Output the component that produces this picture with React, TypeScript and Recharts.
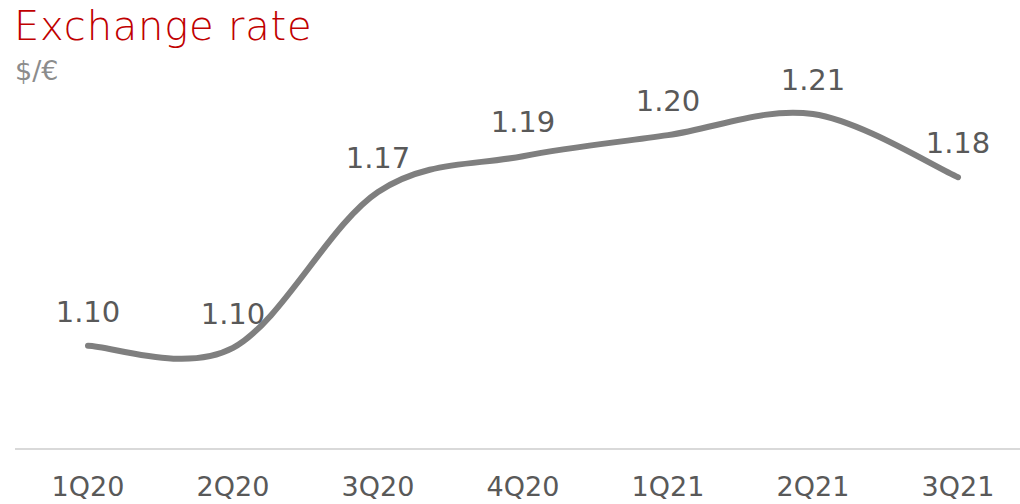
import React from 'react';
import { LineChart, Line, XAxis, YAxis, LabelList } from 'recharts';

const quarters = ['1Q20', '2Q20', '3Q20', '4Q20', '1Q21', '2Q21', '3Q21'];
const rates = [1.1, 1.099, 1.173, 1.19, 1.2, 1.21, 1.18];

const data = quarters.map((q, i) => ({ q, v: rates[i] }));

// Excel-like smooth line (uniform Catmull-Rom as cubic Beziers)
const smoothCurve = (ctx: any) => {
  let pts: [number, number][] = [];
  return {
    areaStart() {},
    areaEnd() {},
    lineStart() { pts = []; },
    point(x: number, y: number) { pts.push([+x, +y]); },
    lineEnd() {
      const n = pts.length;
      if (!n) return;
      ctx.moveTo(pts[0][0], pts[0][1]);
      for (let i = 0; i < n - 1; i++) {
        const p0 = pts[i - 1] || pts[i];
        const p1 = pts[i];
        const p2 = pts[i + 1];
        const p3 = pts[i + 2] || pts[i + 1];
        ctx.bezierCurveTo(
          p1[0] + (p2[0] - p0[0]) / 6, p1[1] + (p2[1] - p0[1]) / 6,
          p2[0] - (p3[0] - p1[0]) / 6, p2[1] - (p3[1] - p1[1]) / 6,
          p2[0], p2[1]
        );
      }
    },
  };
};

const font = '"Century Gothic", "DejaVu Sans", sans-serif';

export default function App() {
  return (
    <div style={{ position: 'absolute', left: 0, top: 0, width: 1020, height: 504, background: '#fff', overflow: 'hidden', fontFamily: font }}>
      <div style={{ position: 'absolute', left: 14, top: 2, fontSize: 40, letterSpacing: 0.8, color: '#C00000', lineHeight: '48px', fontWeight: 300 }}>Exchange rate</div>
      <div style={{ position: 'absolute', left: 15, top: 55, fontSize: 27, color: '#8C8C8C', lineHeight: '32px' }}>$/€</div>
      <LineChart width={1020} height={504} data={data} margin={{ top: 93, right: 0, left: 15, bottom: 0 }}>
        <XAxis
          dataKey="q"
          scale="point"
          height={55}
          padding={{ left: 73, right: 62 }}
          axisLine={{ stroke: '#D9D9D9', strokeWidth: 2 }}
          tickLine={false}
          tickMargin={22}
          tick={{ fill: '#595959', fontSize: 27, fontFamily: font }}
          interval={0}
        />
        <YAxis hide domain={[1.051, 1.22]} />
        <Line
          dataKey="v"
          type={smoothCurve as any}
          stroke="#7F7F7F"
          strokeWidth={6}
          strokeLinecap="round"
          dot={false}
          activeDot={false}
          isAnimationActive={false}
        >
          <LabelList
            dataKey="v"
            position="top"
            offset={24}
            formatter={(v: any) => Number(v).toFixed(2)}
            style={{ fill: '#595959', fontSize: 29, fontFamily: font }}
          />
        </Line>
      </LineChart>
    </div>
  );
}
